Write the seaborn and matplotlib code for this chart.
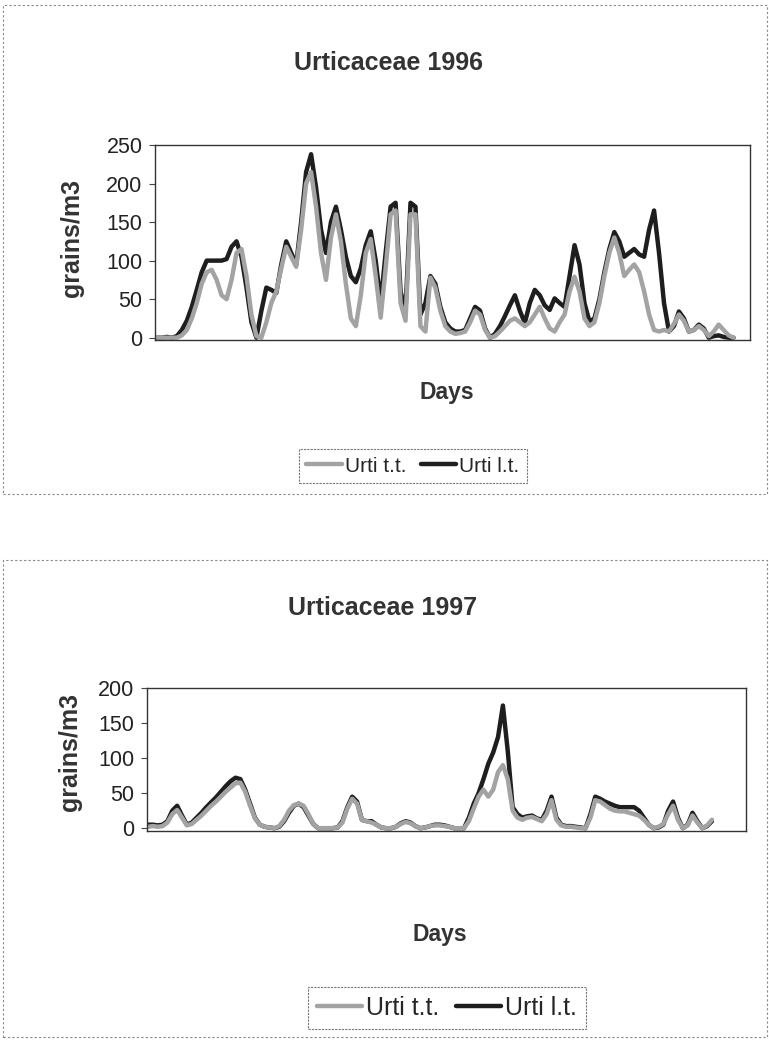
import numpy as np
import pandas as pd
import matplotlib
matplotlib.use("Agg")
import matplotlib.pyplot as plt
import seaborn as sns
from matplotlib.patches import Rectangle
from matplotlib.lines import Line2D

# ---------------- data ----------------
days96 = list(range(117))
urti_lt_1996 = [0, 0, 1, 0, 2, 10, 22, 40, 62, 85, 100, 100, 100, 100, 102, 118, 125, 105, 65, 20,
                0, 35, 65, 62, 58, 95, 125, 110, 95, 150, 215, 238, 195, 140, 110, 150, 170, 140, 105, 80,
                72, 90, 120, 138, 100, 45, 110, 170, 175, 60, 35, 175, 170, 30, 45, 80, 70, 40, 20, 12,
                8, 8, 10, 25, 40, 35, 12, 0, 5, 15, 28, 42, 55, 35, 19, 45, 62, 55, 42, 36,
                51, 45, 40, 80, 120, 95, 45, 21, 25, 50, 85, 115, 137, 125, 105, 110, 115, 108, 105, 140,
                165, 110, 45, 8, 15, 34, 25, 8, 10, 17, 12, 0, 2, 3, 1, 0, 0]
urti_tt_1996 = [0, 0, 0, 0, 0, 3, 10, 25, 45, 70, 85, 88, 75, 55, 50, 75, 110, 115, 80, 30,
                2, 0, 20, 45, 60, 90, 118, 105, 92, 140, 200, 215, 170, 110, 75, 130, 160, 125, 70, 25,
                15, 55, 110, 128, 80, 26, 90, 160, 165, 45, 22, 160, 160, 15, 8, 78, 65, 35, 15, 8,
                5, 6, 8, 20, 35, 30, 10, 0, 2, 8, 15, 22, 25, 20, 15, 20, 30, 40, 25, 12,
                8, 20, 30, 60, 79, 60, 25, 15, 20, 45, 80, 110, 130, 110, 80, 88, 95, 85, 60, 30,
                10, 8, 10, 8, 18, 30, 22, 8, 10, 15, 10, 2, 8, 17, 10, 3, 0]

days97 = list(range(117))
urti_lt_1997 = [5, 5, 4, 5, 10, 25, 32, 18, 5, 8, 15, 22, 30, 37, 44, 52, 60, 67, 72, 70,
                55, 35, 15, 5, 2, 1, 0, 2, 10, 22, 32, 35, 30, 18, 6, 0, 0, 0, 0, 1,
                10, 30, 45, 38, 12, 10, 10, 5, 1, 0, 0, 2, 7, 10, 8, 3, 0, 1, 3, 5,
                5, 4, 2, 0, 0, 0, 15, 35, 50, 70, 92, 108, 130, 175, 110, 30, 20, 15, 17, 18,
                14, 12, 25, 45, 15, 5, 3, 3, 2, 1, 0, 20, 45, 42, 38, 35, 32, 30, 30, 30,
                30, 25, 15, 5, 0, 1, 5, 25, 38, 15, 0, 5, 22, 10, 0, 3, 10]
urti_tt_1997 = [2, 3, 2, 3, 8, 20, 26, 15, 4, 6, 12, 18, 25, 32, 38, 45, 52, 58, 64, 65,
                52, 32, 14, 5, 2, 1, 0, 3, 12, 25, 33, 35, 32, 20, 6, 0, 0, 0, 0, 1,
                8, 28, 42, 35, 12, 10, 8, 5, 1, 0, 0, 2, 6, 9, 7, 3, 0, 1, 3, 4,
                4, 3, 2, 0, 0, 0, 10, 28, 45, 55, 45, 55, 80, 90, 70, 25, 15, 12, 15, 16,
                13, 10, 20, 40, 12, 4, 2, 2, 1, 0, 0, 15, 40, 38, 33, 28, 25, 24, 24, 22,
                20, 18, 12, 5, 0, 2, 6, 20, 32, 12, 0, 4, 18, 8, 0, 4, 12]

series_names = ["Urti t.t.", "Urti l.t."]
ticks96 = [0, 50, 100, 150, 200, 250]
ticks97 = [0, 50, 100, 150, 200]

# ---------------- style ----------------
sns.set_style("white")
plt.rcParams['font.family'] = ['Liberation Sans', 'DejaVu Sans']

W, H = 769, 1046
fig = plt.figure(figsize=(W / 100, H / 100), dpi=100)

LIGHT = "#a3a3a3"
DARK = "#1e1e1e"


def ax_px(left, top, right, bottom):
    return fig.add_axes([left / W, 1 - bottom / H, (right - left) / W, (bottom - top) / H])


def draw(ax, days, tt, lt, ticks, ylim, xlim):
    df = pd.DataFrame({"day": list(days) * 2,
                       "value": list(tt) + list(lt),
                       "series": [series_names[0]] * len(days) + [series_names[1]] * len(days)})
    sns.lineplot(data=df, x="day", y="value", hue="series",
                 palette={series_names[0]: LIGHT, series_names[1]: DARK},
                 hue_order=[series_names[1], series_names[0]],
                 linewidth=3.2, ax=ax, legend=False)
    ax.set_ylim(*ylim)
    ax.set_xlim(*xlim)
    ax.set_yticks(ticks)
    ax.set_yticklabels([str(t) for t in ticks], fontsize=15.5, color="#222222")
    ax.set_xticks([])
    ax.set_xlabel("")
    ax.set_ylabel("")
    ax.tick_params(axis="y", length=4, width=0.8, color="#444444", pad=5, left=True)
    for s in ax.spines.values():
        s.set_visible(True)
        s.set_color("#333333")
        s.set_linewidth(1.0)


ax1 = ax_px(155, 145, 750, 340)
draw(ax1, days96, urti_tt_1996, urti_lt_1996, ticks96, (-3, 250), (-0.4, 119.3))

ax2 = ax_px(147, 688, 746, 831)
draw(ax2, days97, urti_tt_1997, urti_lt_1997, ticks97, (-4, 200), (-0.2, 123))


def ftext(x, y, s, **kw):
    fig.text(x / W, 1 - y / H, s, ha="center", va="center", **kw)


ftext(388, 63, "Urticaceae 1996", fontsize=18, fontweight="bold", color="#333333")
ftext(447, 393, "Days", fontsize=16.5, fontweight="bold", color="#333333")
ftext(72, 238, "grains/m3", fontsize=18, fontweight="bold", color="#333333", rotation=90)

ftext(383, 608, "Urticaceae 1997", fontsize=18, fontweight="bold", color="#333333")
ftext(440, 935, "Days", fontsize=16.5, fontweight="bold", color="#333333")
ftext(70, 752, "grains/m3", fontsize=18, fontweight="bold", color="#333333", rotation=90)

# legends
handles = [Line2D([], [], color=LIGHT, lw=3.2), Line2D([], [], color=DARK, lw=3.2)]
for (cx, cy, fs, hl, cs) in [(413, 466, 15, 1.7, 0.7), (447, 1008, 18, 1.8, 0.7)]:
    leg = fig.legend(handles, series_names, loc="center", bbox_to_anchor=(cx / W, 1 - cy / H),
                     ncol=2, fontsize=fs, frameon=True, fancybox=False, handlelength=hl,
                     handletextpad=0.15, columnspacing=cs, borderpad=0.35)
    leg.get_frame().set_edgecolor("#555555")
    leg.get_frame().set_linewidth(0.8)
    leg.get_frame().set_linestyle((0, (2, 1)))

# outer chart frames
for (x0, y0, x1, y1) in [(3, 5, 767, 494), (3, 560, 767, 1037)]:
    fig.patches.append(Rectangle((x0 / W, 1 - y1 / H), (x1 - x0) / W, (y1 - y0) / H,
                                 transform=fig.transFigure, fill=False, edgecolor="#888888",
                                 linewidth=0.8, linestyle=(0, (2, 2))))

fig.savefig("out.png", dpi=100, facecolor="white")
